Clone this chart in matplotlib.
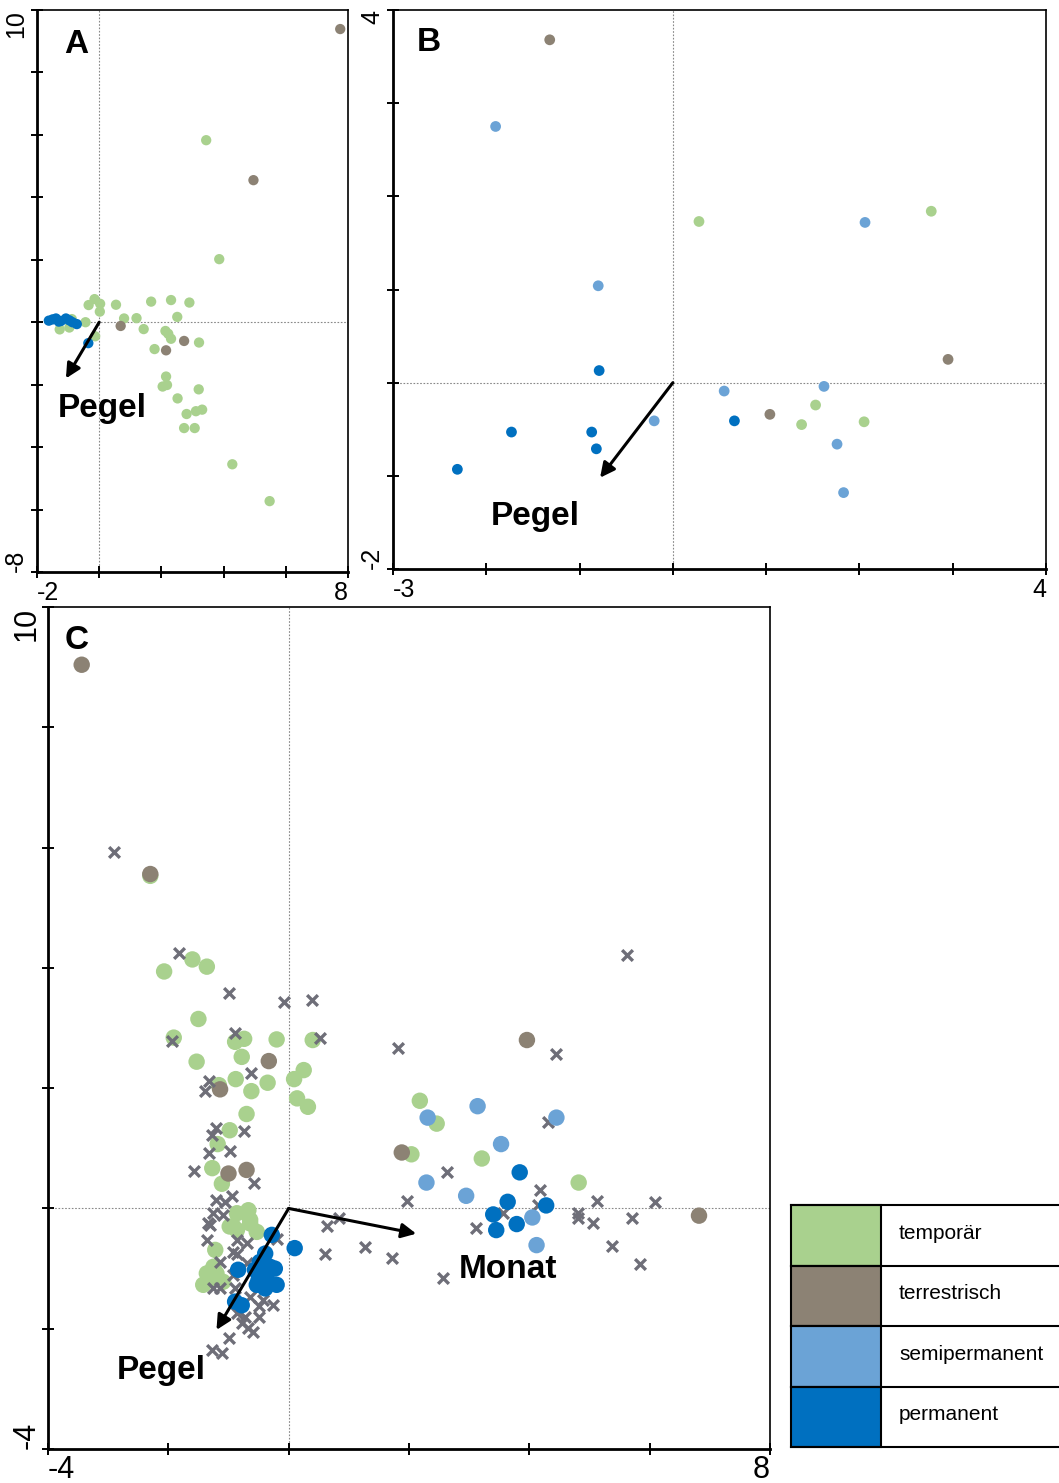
import numpy as np
import matplotlib
matplotlib.use("Agg")
import matplotlib.pyplot as plt
from matplotlib.patches import Rectangle

plt.rcParams["font.family"] = ["Liberation Sans", "DejaVu Sans"]

# --------------------------------------------------------------------------- #
# Data (ordination scores)
# --------------------------------------------------------------------------- #
classes = ["temporär", "terrestrisch", "semipermanent", "permanent"]
class_colors = ["#a9d18e", "#8c8274", "#6ba3d6", "#0070c0"]
month_color = "#6e6e78"

a_temporaer = [(3.44, 5.83), (3.86, 2.02), (-0.15, 0.74), (-0.34, 0.55), (0.03, 0.59),
               (0.02, 0.34), (0.54, 0.56), (1.67, 0.66), (2.31, 0.71), (2.90, 0.63),
               (0.80, 0.12), (1.20, 0.13), (2.51, 0.17), (1.43, -0.22), (2.13, -0.28),
               (2.22, -0.37), (2.31, -0.53), (3.21, -0.65), (1.78, -0.86), (2.15, -1.74),
               (2.18, -2.01), (2.04, -2.06), (3.20, -2.15), (2.52, -2.44), (2.81, -2.94),
               (3.11, -2.85), (3.31, -2.80), (2.73, -3.39), (3.07, -3.39), (4.28, -4.55),
               (5.48, -5.73), (-0.44, 0.0), (-0.13, -0.45), (-1.27, -0.23), (-0.96, -0.17),
               (-0.88, 0.10)]
a_terrestrisch = [(7.75, 9.39), (4.96, 4.55), (0.69, -0.12), (2.73, -0.60), (2.15, -0.90)]
a_semipermanent = []
a_permanent = [(-1.62, 0.05), (-1.50, 0.09), (-1.39, 0.12), (-1.30, 0.02), (-1.23, 0.04),
               (-1.07, 0.12), (-0.96, 0.06), (-0.86, 0.0), (-0.72, -0.06), (-0.35, -0.67)]
a_pegel = (-1.07, -1.80)

b_temporaer = [(0.28, 1.73), (2.77, 1.84), (1.53, -0.24), (1.38, -0.45), (2.05, -0.42)]
b_terrestrisch = [(-1.32, 3.68), (2.95, 0.25), (1.04, -0.34)]
b_semipermanent = [(-1.90, 2.75), (2.06, 1.72), (-0.80, 1.04), (0.55, -0.09), (1.62, -0.04),
                   (-0.20, -0.41), (1.76, -0.66), (1.83, -1.18)]
b_permanent = [(-0.79, 0.13), (0.66, -0.41), (-1.73, -0.53), (-0.87, -0.53), (-0.82, -0.71),
               (-2.31, -0.93)]
b_pegel = (-0.78, -1.02)

c_temporaer = [(-2.30, 5.53), (-1.60, 4.14), (-1.36, 4.02), (-2.07, 3.94), (-1.50, 3.15),
               (-1.91, 2.84), (-0.89, 2.77), (-0.74, 2.82), (-0.20, 2.81), (0.40, 2.80),
               (-1.53, 2.44), (-0.78, 2.52), (0.25, 2.30), (0.09, 2.15), (-0.88, 2.15),
               (-0.35, 2.09), (-1.16, 2.05), (-0.62, 1.95), (0.14, 1.83), (0.32, 1.69),
               (-0.70, 1.57), (-0.98, 1.30), (-1.18, 1.07), (-1.27, 0.67), (-1.11, 0.41),
               (-0.86, -0.08), (-0.67, -0.03), (-0.64, -0.19), (-0.92, -0.30), (-0.98, -0.30),
               (-0.86, -0.36), (-0.64, -0.25), (-0.53, -0.39), (-1.22, -0.69), (-1.25, -0.97),
               (-1.20, -1.08), (-1.36, -1.08), (-1.42, -1.27), (-1.09, -1.22), (-1.28, -1.19),
               (2.18, 1.79), (2.46, 1.41), (2.04, 0.90), (3.21, 0.83), (4.82, 0.43)]
c_terrestrisch = [(-3.44, 9.04), (-2.30, 5.56), (-0.33, 2.45), (-1.14, 1.98), (-1.00, 0.58),
                  (-0.70, 0.64), (3.96, 2.80), (1.88, 0.93), (6.82, -0.12)]
c_semipermanent = [(3.14, 1.70), (2.31, 1.51), (4.45, 1.51), (3.53, 1.07), (2.29, 0.43),
                   (2.95, 0.21), (4.05, -0.15), (4.12, -0.61)]
c_permanent = [(-0.28, -0.44), (0.10, -0.66), (-0.39, -0.75), (-0.48, -0.89), (-0.31, -0.97),
               (-0.23, -1.00), (-0.56, -1.02), (-0.37, -1.11), (-0.50, -1.19), (-0.20, -1.27),
               (-0.39, -1.33), (-0.53, -1.27), (-0.84, -1.02), (-0.89, -1.55), (-0.78, -1.61),
               (3.84, 0.60), (3.64, 0.11), (4.28, 0.05), (3.40, -0.10), (3.79, -0.26),
               (3.45, -0.36)]
c_monate = [(-2.91, 5.93), (-1.82, 4.24), (-0.99, 3.59), (-0.07, 3.44), (0.38, 3.47),
            (-1.94, 2.78), (-0.90, 2.92), (0.52, 2.84), (-0.63, 2.26), (-1.33, 2.12),
            (-1.39, 1.95), (-1.20, 1.33), (-1.28, 1.22), (-0.75, 1.29), (-1.32, 0.92),
            (-0.98, 0.95), (-1.57, 0.62), (-0.57, 0.42), (-1.20, 0.14), (-1.06, 0.11),
            (-0.95, 0.20), (-1.25, -0.08), (-1.09, -0.11), (-1.31, -0.28), (-1.34, -0.25),
            (-1.36, -0.52), (-0.86, -0.52), (-0.92, -0.72), (-1.14, -0.89), (-0.70, -0.91),
            (-1.14, -1.33), (-0.89, -1.33), (-0.64, -1.47), (-0.42, -1.52), (-0.26, -1.61),
            (-0.50, -1.63), (-0.86, -1.74), (-0.73, -1.80), (-0.50, -1.80), (-0.67, -1.99),
            (-0.59, -2.05), (-0.78, -1.91), (-0.99, -2.16), (-1.27, -2.35), (-1.10, -2.41),
            (-0.70, -0.58), (-0.86, -0.75), (-0.92, -1.11), (-1.25, -1.33), (-0.20, -0.51),
            (0.63, -0.30), (0.60, -0.75), (1.82, 2.66), (4.45, 2.56), (4.31, 1.43),
            (2.63, 0.60), (1.97, 0.13), (4.18, 0.31), (4.15, 0.05), (5.12, 0.13),
            (6.09, 0.11), (3.57, -0.08), (4.81, -0.08), (4.81, -0.16), (5.06, -0.25),
            (5.71, -0.16), (5.37, -0.62), (5.84, -0.93), (3.11, -0.32), (0.83, -0.16),
            (1.27, -0.64), (1.72, -0.83), (2.57, -1.16), (5.63, 4.22)]
c_pegel = (-1.20, -2.02)
c_monat = (2.12, -0.42)


# --------------------------------------------------------------------------- #
# Helpers
# --------------------------------------------------------------------------- #
def style_axes(ax, xlim, ylim, xstep, ystep, fs, pad=2):
    ax.set_xlim(*xlim)
    ax.set_ylim(*ylim)
    xt = np.arange(xlim[0], xlim[1] + 0.01, xstep)
    yt = np.arange(ylim[0], ylim[1] + 0.01, ystep)
    ax.set_xticks(xt)
    ax.set_yticks(yt)
    ax.set_xticklabels([f"{xlim[0]:g}"] + [""] * (len(xt) - 2) + [f"{xlim[1]:g}"])
    ax.set_yticklabels([f"{ylim[0]:g}"] + [""] * (len(yt) - 2) + [f"{ylim[1]:g}"],
                       rotation=90)
    ax.tick_params(direction="inout", length=9, width=1.4, labelsize=fs, pad=pad,
                   color="black")
    xl = ax.get_xticklabels()
    xl[0].set_ha("left")
    xl[-1].set_ha("right")
    yl = ax.get_yticklabels()
    yl[0].set_va("bottom")
    yl[-1].set_va("top")
    for side in ("left", "bottom"):
        ax.spines[side].set_linewidth(2.0)
    for side in ("top", "right"):
        ax.spines[side].set_linewidth(1.2)
    ax.axhline(0, color="#888888", lw=0.8, ls=(0, (1.5, 1.5)), zorder=0)
    ax.axvline(0, color="#888888", lw=0.8, ls=(0, (1.5, 1.5)), zorder=0)


def scatter_groups(ax, groups, size):
    # terrestrial first so the green points sit on top of it, like the original
    order = [1, 0, 2, 3]
    for i in order:
        pts = groups[i]
        if not pts:
            continue
        x, y = zip(*pts)
        ax.scatter(x, y, s=size, color=class_colors[i], edgecolors="none", zorder=3 + i * 0.1)


def arrow(ax, end, label=None, label_xy=None):
    ax.annotate("", xy=end, xytext=(0, 0),
                arrowprops=dict(arrowstyle="-|>", lw=2.2, color="black",
                                mutation_scale=22, shrinkA=0, shrinkB=0), zorder=6)
    if label:
        ax.text(*label_xy, label, fontsize=24, fontweight="bold", ha="center",
                va="center", zorder=7)


# --------------------------------------------------------------------------- #
# Figure
# --------------------------------------------------------------------------- #
fig = plt.figure(figsize=(10.59, 14.83), dpi=100, facecolor="white")
W, H = 1059.0, 1483.0


def px_axes(left, top, right, bottom):
    return fig.add_axes([left / W, 1 - bottom / H, (right - left) / W, (bottom - top) / H])


# Panel A
axA = px_axes(37, 10, 348, 572)
style_axes(axA, (-2, 8), (-8, 10), 2, 2, 18)
scatter_groups(axA, [a_temporaer, a_terrestrisch, a_semipermanent, a_permanent], 55)
arrow(axA, a_pegel, "Pegel", (0.09, -2.76))
axA.text(-0.75, 8.91, "A", fontsize=24, fontweight="bold", ha="center", va="center")

# Panel B
axB = px_axes(393, 10, 1046, 569)
style_axes(axB, (-3, 4), (-2, 4), 1, 1, 18)
scatter_groups(axB, [b_temporaer, b_terrestrisch, b_semipermanent, b_permanent], 60)
arrow(axB, b_pegel, "Pegel", (-1.48, -1.44))
axB.text(-2.62, 3.65, "B", fontsize=24, fontweight="bold", ha="center", va="center")

# Panel C
axC = px_axes(48, 607, 770, 1449)
style_axes(axC, (-4, 8), (-4, 10), 2, 2, 22, pad=0)
xC, yC = zip(*c_monate)
scatter_groups(axC, [c_temporaer, c_terrestrisch, [], []], 140)
axC.scatter(xC, yC, marker="x", s=60, color=month_color, linewidths=2.4, zorder=3.15)
scatter_groups(axC, [[], [], c_semipermanent, c_permanent], 140)
arrow(axC, c_pegel, "Pegel", (-2.12, -2.69))
arrow(axC, c_monat, "Monat", (3.65, -1.02))
axC.text(-3.53, 9.45, "C", fontsize=24, fontweight="bold", ha="center", va="center")

# Legend table
axL = px_axes(791, 1205, 1059, 1447)
axL.set_xlim(0, 268)
axL.set_ylim(242, 0)
axL.axis("off")
row_h = 242 / 4
for i, (name, col) in enumerate(zip(classes, class_colors)):
    y0 = i * row_h
    axL.add_patch(Rectangle((0, y0), 90, row_h, facecolor=col, edgecolor="black",
                            lw=1.5, clip_on=False))
    axL.text(108, y0 + row_h / 2 - 2, name, fontsize=15, ha="left", va="center")
for i in range(5):
    axL.plot([0, 268], [i * row_h, i * row_h], color="black", lw=1.5, clip_on=False)

fig.savefig("out.png", dpi=100, facecolor="white")
